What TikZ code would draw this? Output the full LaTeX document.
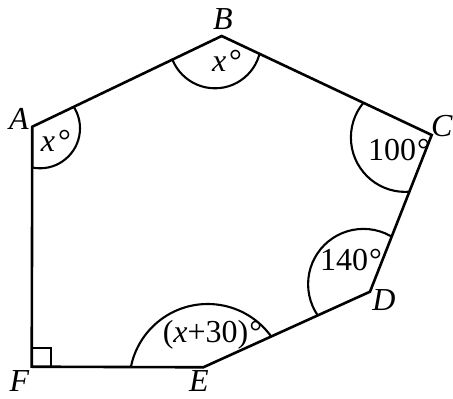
\documentclass[tikz,border=0pt]{standalone}
\usepackage{fontspec}
\setmainfont{Liberation Serif}
\begin{document}
\begin{tikzpicture}[x=1pt,y=1pt,
  edge/.style={line width=2.6pt, line join=miter},
  arcline/.style={line width=2.1pt},
  lbl/.style={font=\fontsize{32}{38}\selectfont, inner sep=0pt, anchor=base}]
\useasboundingbox (0,0) rectangle (453,399);
\coordinate (A) at (32.3,272.3);
\coordinate (B) at (221.7,363);
\coordinate (C) at (431.7,264);
\coordinate (D) at (370,107.3);
\coordinate (E) at (203.3,31.7);
\coordinate (F) at (31.7,32.3);
\begin{scope}
  \clip (A)--(B)--(C)--(D)--(E)--(F)--cycle;
  \draw[arcline] (40,270.7) circle[radius=40];
  \draw[arcline] (215,356.7) circle[radius=46];
  \draw[arcline] (405.3,261.5) circle[radius=54.4];
  \draw[arcline] (363.4,114.8) circle[radius=55.3];
  \draw[arcline] (207.7,16.7) circle[radius=78.3];
\end{scope}
\draw[edge] (A)--(B)--(C)--(D)--(E)--(F)--cycle;
\draw[line width=2.2pt] (F) rectangle ++(19,19);
% vertex labels
\node[lbl, anchor=east] (lC) at (453,272.5) {\textit{C}};
\node[lbl, anchor=center] (lA) at (19,280.5) {\textit{A}};
\node[lbl, anchor=center] (lB) at (223,380) {\textit{B}};
\node[lbl, anchor=center] (lD) at (384,99) {\textit{D}};
\node[lbl, anchor=center] (lE) at (199,18) {\textit{E}};
\node[lbl, anchor=center] (lF) at (19.5,18) {\textit{F}};
% angle labels
\node[lbl] (aA) at (56,247.3) {\textit{x}\hspace{3pt}°};
\node[lbl] (aB) at (227,327.3) {\textit{x}\hspace{3pt}°};
\node[lbl] (aC) at (399,238.3) {100\hspace{1pt}°};
\node[lbl] (aD) at (351,128.3) {140\hspace{1pt}°};
\node[lbl] (aE) at (212.5,56.3) {(\textit{x}+30)\hspace{1pt}°};
\end{tikzpicture}
\end{document}
